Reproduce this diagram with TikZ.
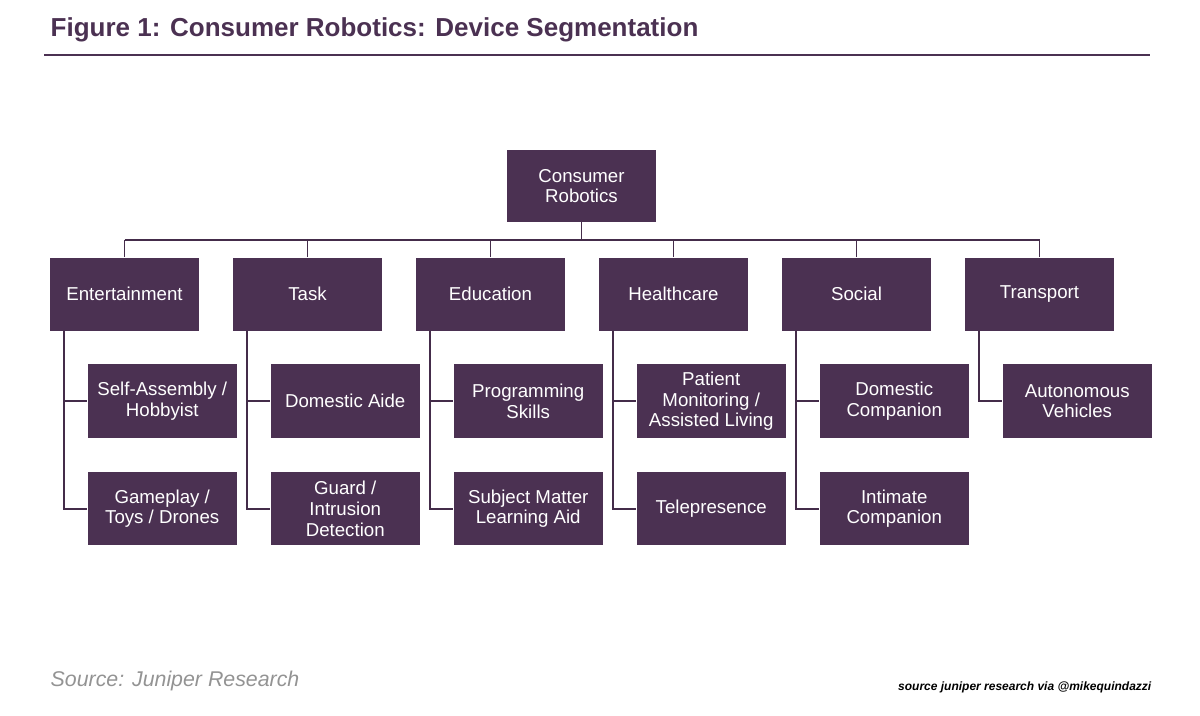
\documentclass[tikz,border=0pt]{standalone}
\usepackage{fontspec}
\setmainfont{Liberation Sans}
\definecolor{plum}{HTML}{4B3152}
\begin{document}
\begin{tikzpicture}[x=0.75pt,y=-0.75pt,
  box/.style={fill=plum,draw=none,text=white,minimum width=149*0.75pt,minimum height=73*0.75pt,align=center,font=\fontsize{14}{15.5}\selectfont,inner sep=1pt},
  con/.style={draw=plum!90!black,line width=1.2pt}]
\useasboundingbox (0,0) rectangle (1200,715);
\node[anchor=west,text=plum,font=\bfseries\fontsize{19.5}{22}\selectfont] (title) at (46,30) {Figure 1: Consumer Robotics: Device Segmentation};
\draw[plum,line width=1.5pt] (44,55) -- (1150,55);
\node[box,minimum height=72*0.75pt] (root) at (581.5,186) {Consumer\\Robotics};
\coordinate (bus) at (581.5,240);
\draw[con] (root.south) -- (bus);
\draw[con] (124.5,240) -- (1039.5,240);
\foreach \n/\cx/\t in {ent/124.5/Entertainment,task/307.5/Task,edu/490.5/Education,hc/673.5/Healthcare,soc/856.5/Social,tr/1039.5/Transport}{
  \node[box] (\n) at (\cx,294) {\t};
  \draw[con] (\n.north) -- (\cx,240);
}
\foreach \p/\n/\t in {ent/e1/{Self-Assembly /\\Hobbyist},ent/e2/{Gameplay /\\Toys / Drones},
  task/t1/{Domestic Aide},task/t2/{Guard /\\Intrusion\\Detection},
  edu/d1/{Programming\\Skills},edu/d2/{Subject Matter\\Learning Aid},
  hc/h1/{Patient\\Monitoring /\\Assisted Living},hc/h2/{Telepresence},
  soc/s1/{Domestic\\Companion},soc/s2/{Intimate\\Companion},
  tr/r1/{Autonomous\\Vehicles}}{
  \path (\p.south west) ++(38,0) coordinate (tmp);
}
\foreach \p/\n/\a/\b in {ent/e/{Self-Assembly /\\Hobbyist}/{Gameplay /\\Toys / Drones},
  task/t/{Domestic Aide}/{Guard /\\Intrusion\\Detection},
  edu/d/{Programming\\Skills}/{Subject Matter\\Learning Aid},
  hc/h/{Patient\\Monitoring /\\Assisted Living}/{Telepresence},
  soc/s/{Domestic\\Companion}/{Intimate\\Companion}}{
  \path (\p.south west) ++(112.5,70.5) node[box,minimum height=74*0.75pt] (\n1) {\a};
  \path (\p.south west) ++(112.5,178) node[box] (\n2) {\b};
  \path (\p.south west) ++(14,0) coordinate (\n top);
  \draw[con] (\n top) |- (\n2.west);
  \draw[con] (\n top |- \n1.west) -- (\n1.west);
}
\path (tr.south west) ++(112.5,70.5) node[box,minimum height=74*0.75pt] (r1) {Autonomous\\Vehicles};
\path (tr.south west) ++(14,0) coordinate (rtop);
\draw[con] (rtop) |- (r1.west);
\node[anchor=west,text=gray!85,font=\itshape\fontsize{16}{18}\selectfont] (src) at (46,681) {Source: Juniper Research};
\node[anchor=east,font=\bfseries\itshape\fontsize{9}{10}\selectfont] (via) at (1156,687) {source juniper research via @mikequindazzi};
\end{tikzpicture}
\end{document}
